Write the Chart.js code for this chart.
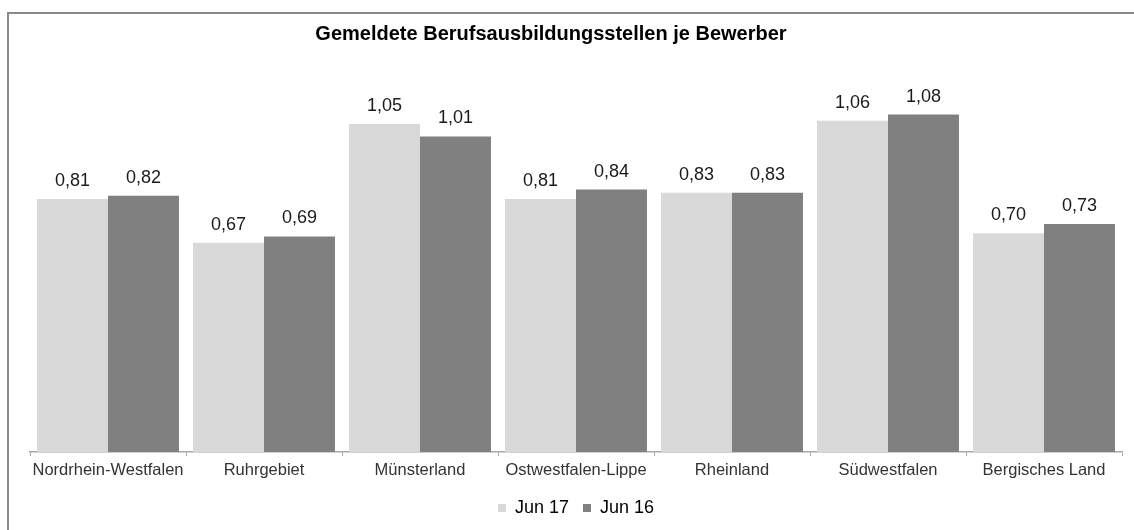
<!DOCTYPE html>
<html lang="de">
<head>
<meta charset="utf-8">
<title>Gemeldete Berufsausbildungsstellen je Bewerber</title>
<script src="https://cdn.jsdelivr.net/npm/chart.js@4/dist/chart.umd.min.js"></script>
<style>
  html, body { margin: 0; padding: 0; background: #fff; overflow: hidden; }
  body { width: 1134px; height: 530px; position: relative; }
  .frame {
    position: absolute; left: 7px; top: 12px;
    width: 2000px; height: 2000px;
    border: 2px solid #898989; box-sizing: border-box;
  }
  .wrap { position: absolute; left: -20px; top: 0; width: 1154px; height: 530px; }
</style>
</head>
<body>
<div class="frame"></div>
<div class="wrap"><canvas id="chart"></canvas></div>
<script>
// ── Data ──────────────────────────────────────────────────────────
const regions = ['Nordrhein-Westfalen', 'Ruhrgebiet', 'Münsterland', 'Ostwestfalen-Lippe',
  'Rheinland', 'Südwestfalen', 'Bergisches Land'];
const jun17 = [0.81, 0.67, 1.05, 0.81, 0.83, 1.06, 0.70];
const jun16 = [0.82, 0.69, 1.01, 0.84, 0.83, 1.08, 0.73];
const seriesNames = ['Jun 17', 'Jun 16'];

const FONT = '"Liberation Sans", Arial, sans-serif';

// ── Value labels above each bar ───────────────────────────────────
const valueLabels = {
  id: 'valueLabels',
  afterDatasetsDraw(chart) {
    const ctx = chart.ctx;
    ctx.save();
    ctx.font = '18px ' + FONT;
    ctx.fillStyle = '#1a1a1a';
    ctx.textAlign = 'center';
    ctx.textBaseline = 'alphabetic';
    chart.data.datasets.forEach((ds, i) => {
      chart.getDatasetMeta(i).data.forEach((bar, j) => {
        const txt = ds.data[j].toFixed(2).replace('.', ',');
        ctx.fillText(txt, bar.x, bar.y - 13);
      });
    });
    ctx.restore();
  }
};

const canvas = document.getElementById('chart');
canvas.width = 1154;
canvas.height = 530;

new Chart(canvas.getContext('2d'), {
  type: 'bar',
  data: {
    labels: regions,
    datasets: [
      { label: seriesNames[0], data: jun17, backgroundColor: '#d9d9d9' },
      { label: seriesNames[1], data: jun16, backgroundColor: '#808080' },
    ],
  },
  options: {
    responsive: false,
    animation: false,
    layout: { padding: { top: 0, left: 0, right: 12, bottom: 3 } },
    datasets: { bar: { categoryPercentage: 0.91, barPercentage: 1 } },
    scales: {
      x: {
        grid: {
          display: true,
          drawOnChartArea: false,
          drawTicks: true,
          tickLength: 4,
          color: '#a6a6a6',
        },
        border: { display: true, color: '#a6a6a6', width: 1.5 },
        ticks: {
          color: '#333',
          font: { family: FONT, size: 16.5 },
          padding: 4.6,
          maxRotation: 0,
          autoSkip: false,
        },
        afterFit(scale) { scale.height = 33; },
      },
      y: {
        min: 0,
        max: 1.2,
        display: true,
        grid: { display: false },
        border: { display: false },
        ticks: { display: false },
        afterFit(scale) { scale.width = 50; },
      },
    },
    plugins: {
      title: {
        display: true,
        text: 'Gemeldete Berufsausbildungsstellen je Bewerber',
        color: '#000',
        font: { family: FONT, size: 20, weight: 'bold' },
        padding: { top: 22, bottom: 31 },
      },
      legend: {
        display: true,
        position: 'bottom',
        fullSize: false,
        labels: {
          color: '#000',
          font: { family: FONT, size: 18 },
          boxWidth: 8,
          boxHeight: 8,
          padding: 14,
        },
      },
      tooltip: { enabled: false },
    },
  },
  plugins: [valueLabels],
});
</script>
</body>
</html>
